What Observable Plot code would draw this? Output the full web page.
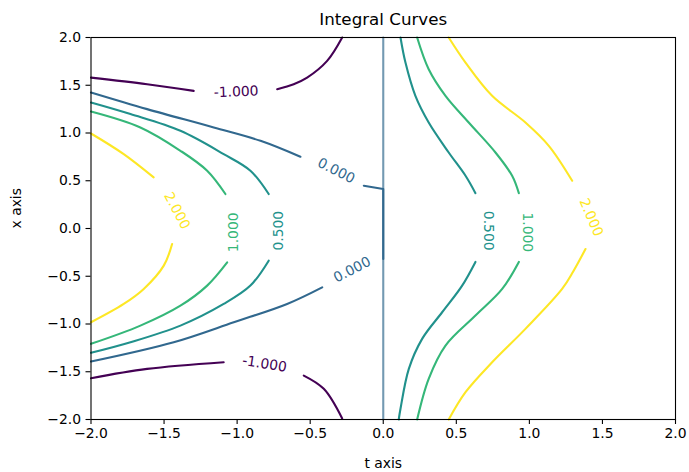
<!DOCTYPE html>
<html>
<head>
<meta charset="utf-8">
<script src="https://cdn.jsdelivr.net/npm/d3@7"></script>
<script src="https://cdn.jsdelivr.net/npm/@observablehq/plot@0.6"></script>
<style>
  html, body { margin: 0; padding: 0; background: #fff; }
</style>
</head>
<body>
<div id="chart"></div>
<script>
// ---- data ----
const levels = [-1, 0, 0.5, 1, 2];
const xTicks = [-2, -1.5, -1, -0.5, 0, 0.5, 1, 1.5, 2];
const yTicks = [-2, -1.5, -1, -0.5, 0, 0.5, 1, 1.5, 2];

// each level: list of segments (gaps are where inline labels sit), points [t, x]
const curveM1 = [
  [[-2, 1.58], [-1.616, 1.511], [-1.297, 1.441]],
  [[-0.726, 1.459], [-0.613, 1.511], [-0.521, 1.58], [-0.384, 1.755], [-0.281, 2.0]],
  [[-2, -1.568], [-1.616, -1.47], [-1.092, -1.4]],
  [[-0.544, -1.54], [-0.407, -1.679], [-0.281, -1.99]]
];
const curve0 = [
  [[-2, 1.424], [-1.616, 1.25], [-1.16, 1.058], [-0.84, 0.918], [-0.567, 0.751]],
  [[-0.418, -0.616], [-0.658, -0.79], [-1.023, -0.982], [-1.434, -1.191], [-2, -1.393]]
];
const curve0Joint = [
  [[-0.133, 0.448], [0, 0.413], [0, -0.319]]
];
const curve0Vertical = [
  [[0, 2], [0, -2]]
];
const curve05 = [
  [[-2, 1.319], [-1.73, 1.198], [-1.388, 1.023], [-1.092, 0.779], [-0.909, 0.605], [-0.784, 0.361]],
  [[-0.784, -0.337], [-0.909, -0.598], [-1.092, -0.79], [-1.388, -1.017], [-1.73, -1.191], [-2, -1.302]],
  [[0.118, 2], [0.152, 1.737], [0.22, 1.389], [0.311, 1.11], [0.448, 0.796], [0.563, 0.552], [0.631, 0.37]],
  [[0.631, -0.35], [0.54, -0.598], [0.403, -0.877], [0.266, -1.156], [0.175, -1.47], [0.118, -1.888], [0.106, -2]]
];
const curve1 = [
  [[-2, 1.225], [-1.662, 1.058], [-1.388, 0.814], [-1.205, 0.605], [-1.08, 0.361]],
  [[-1.068, -0.355], [-1.205, -0.598], [-1.388, -0.808], [-1.662, -1.017], [-2, -1.208]],
  [[0.232, 2], [0.311, 1.668], [0.426, 1.389], [0.585, 1.11], [0.768, 0.796], [0.882, 0.552], [0.928, 0.37]],
  [[0.928, -0.35], [0.814, -0.633], [0.631, -0.912], [0.426, -1.226], [0.311, -1.574], [0.232, -2]]
];
const curve2 = [
  [[-2, 0.995], [-1.776, 0.779], [-1.571, 0.535]],
  [[-1.445, -0.162], [-1.502, -0.389], [-1.639, -0.633], [-1.776, -0.79], [-2, -0.982]],
  [[0.448, 2], [0.563, 1.737], [0.745, 1.389], [0.973, 1.11], [1.133, 0.866], [1.293, 0.5]],
  [[1.384, -0.215], [1.3, -0.45], [1.224, -0.633], [0.973, -1.051], [0.745, -1.401], [0.563, -1.714], [0.448, -2]]
];

// inline contour labels
const labelText  = ["-1.000", "-1.000", "0.000", "0.000", "0.500", "1.000", "2.000", "0.500", "1.000", "2.000"];
const labelLevel = [-1, -1, 0, 0, 0.5, 1, 2, 0.5, 1, 2];
const labelT     = [-1.007, -0.813, -0.322, -0.213, -0.715, -1.023, -1.411, 0.722, 0.989, 1.423];
const labelX     = [1.431, -1.418, 0.605, -0.431, -0.023, -0.04, 0.186, -0.023, -0.04, 0.116];
const labelAngle = [-2, 9, 27, -27, -90, -90, 62, 90, 90, 67];

const titleText = "Integral Curves";
const xLabel = "t axis";
const yLabel = "x axis";

// ---- build tables ----
function rowsFor(level, segs, tag) {
  const out = [];
  segs.forEach((seg, i) => seg.forEach(([t, x]) => out.push({t, x, level, seg: tag + "-" + i})));
  return out;
}
const smoothRows = [
  ...rowsFor(-1, curveM1, "m1"),
  ...rowsFor(0, curve0, "z"),
  ...rowsFor(0.5, curve05, "h"),
  ...rowsFor(1, curve1, "o"),
  ...rowsFor(2, curve2, "t")
];
const jointRows = rowsFor(0, curve0Joint, "zj");
const vertRows = rowsFor(0, curve0Vertical, "zv");
const labels = labelText.map((s, i) => ({s, level: labelLevel[i], t: labelT[i], x: labelX[i], a: labelAngle[i]}));

const fmt = d3.format(".1f");

const chart = Plot.plot({
  width: 689,
  height: 472,
  marginLeft: 90.5,
  marginRight: 14,
  marginTop: 37,
  marginBottom: 53,
  style: {fontFamily: "DejaVu Sans", fontSize: "13.9px", background: "#fff", color: "#000"},
  x: {domain: [-2, 2], label: null},
  y: {domain: [-2, 2], label: null},
  color: {type: "linear", scheme: "viridis", domain: [-1, 2]},
  marks: [
    Plot.line(vertRows, {x: "t", y: "x", z: "seg", stroke: "level", strokeWidth: 2.1, strokeOpacity: 0.68}),
    Plot.line(jointRows, {x: "t", y: "x", z: "seg", stroke: "level", strokeWidth: 2.1}),
    Plot.line(smoothRows, {x: "t", y: "x", z: "seg", stroke: "level", strokeWidth: 2.1, curve: "catmull-rom"}),
    Plot.text(labels, {x: "t", y: "x", text: "s", fill: "level", rotate: "a", fontSize: 13.9, textAnchor: "middle", lineAnchor: "middle"}),
    Plot.frame({stroke: "#000", strokeWidth: 1.1}),
    Plot.axisX(xTicks, {tickSize: 5, tickPadding: 4, tickFormat: fmt, label: null, fontSize: 13.9, strokeWidth: 1.1}),
    Plot.axisY(yTicks, {tickSize: 5, tickPadding: 5, tickFormat: fmt, label: null, fontSize: 13.9, strokeWidth: 1.1}),
    Plot.text([titleText], {text: d => d, frameAnchor: "top", dy: -18, fontSize: 16.7, fill: "#000", lineAnchor: "middle"}),
    Plot.text([xLabel], {text: d => d, frameAnchor: "bottom", dy: 44, fontSize: 13.9, fill: "#000", lineAnchor: "middle"}),
    Plot.text([yLabel], {text: d => d, frameAnchor: "left", dx: -74.5, rotate: -90, fontSize: 13.9, fill: "#000", lineAnchor: "middle"})
  ]
});
document.getElementById("chart").appendChild(chart);
</script>
</body>
</html>
